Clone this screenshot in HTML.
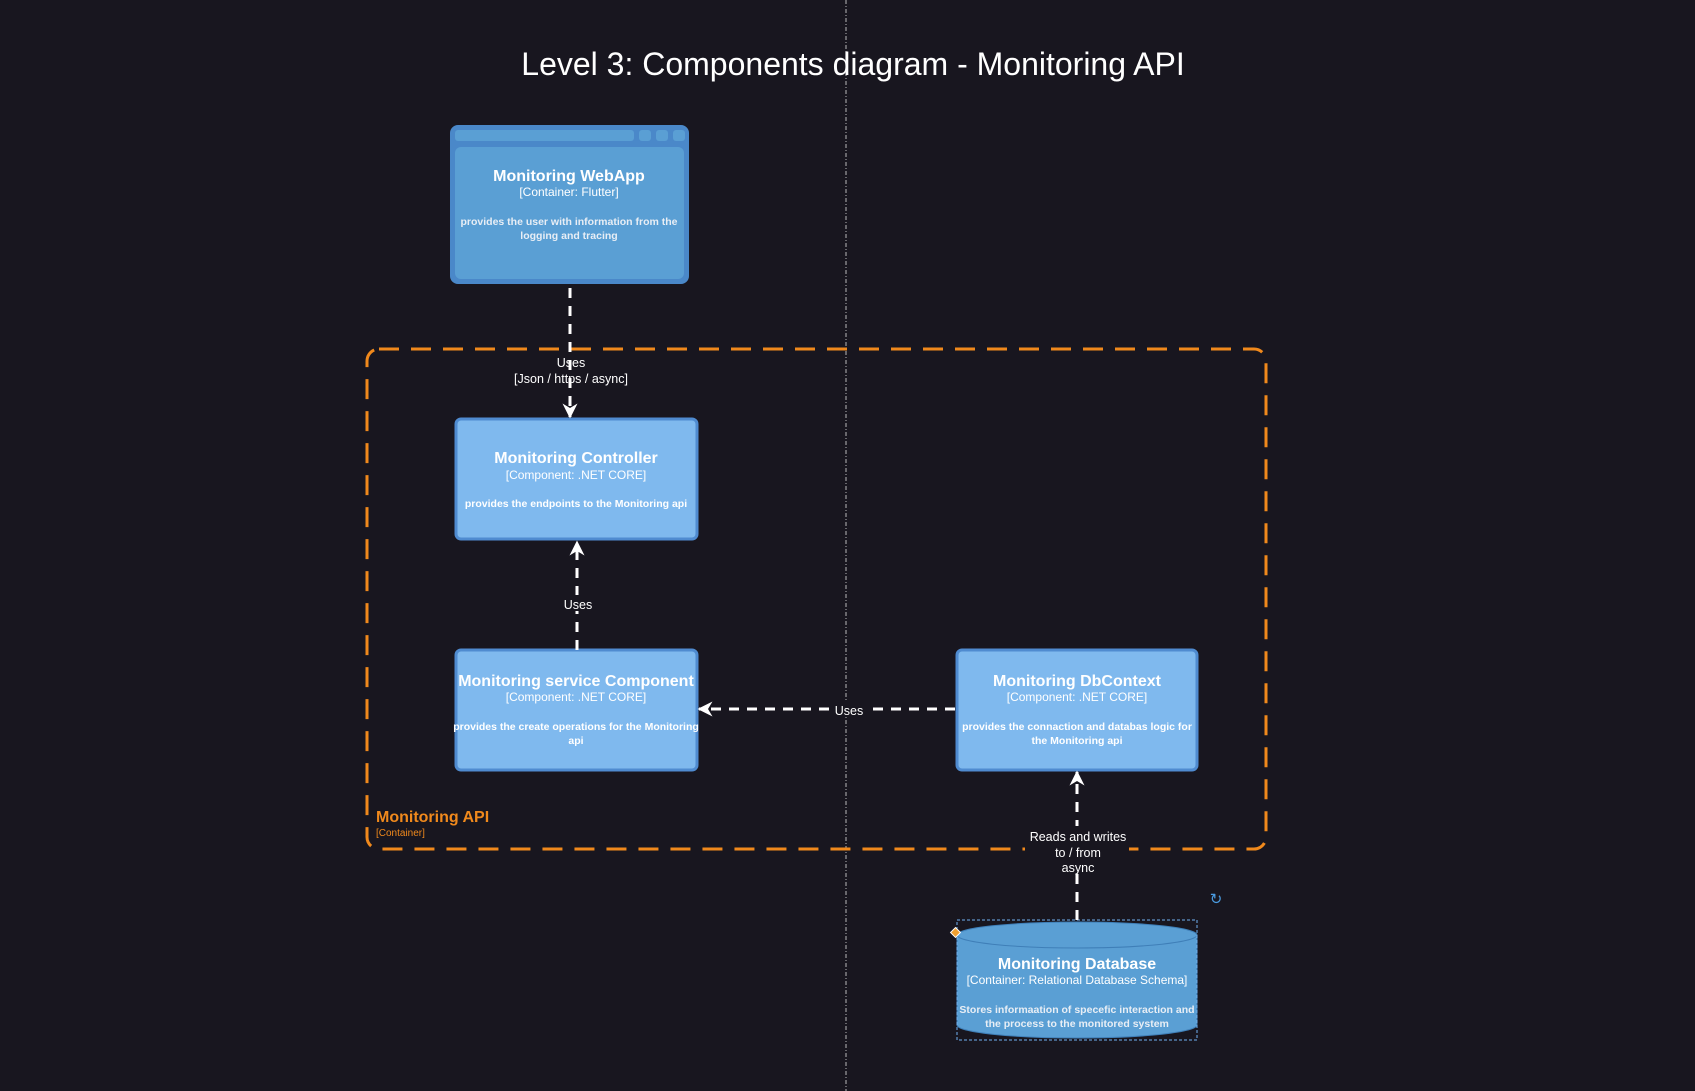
<!DOCTYPE html>
<html><head><meta charset="utf-8"><style>
html,body{margin:0;padding:0;background:#18161f;}
svg{display:block;font-family:"Liberation Sans",sans-serif;}
.d{font-weight:bold;}
</style></head><body>
<svg width="1695" height="1091" viewBox="0 0 1695 1091" xmlns="http://www.w3.org/2000/svg">
<defs>
<marker id="ah" viewBox="0 0 10 10" refX="9" refY="5" markerWidth="5" markerHeight="5" orient="auto-start-reverse">
<path d="M0,0 L10,5 L0,10 L3,5 z" fill="#ffffff"/></marker>
</defs>
<rect width="1695" height="1091" fill="#18161f"/>
<line x1="846" y1="0" x2="846" y2="1091" stroke="#b8b8b8" stroke-width="1" stroke-dasharray="4,2,1,2"/>
<text x="853" y="75" fill="#ffffff" font-size="32" text-anchor="middle">Level 3: Components diagram - Monitoring API</text>

<rect x="367" y="349" width="899" height="500" rx="12" fill="none" stroke="#f0891c" stroke-width="3" stroke-dasharray="20,12"/>
<text x="376" y="822" fill="#f0891c" font-size="16" font-weight="bold">Monitoring API</text>
<text x="376" y="836" fill="#f0891c" font-size="10">[Container]</text>

<rect x="450" y="125" width="239" height="159" rx="8" fill="#4a88c9"/>
<rect x="455" y="130" width="179" height="11" rx="3" fill="#5a9fd4"/>
<rect x="639" y="130" width="12" height="11" rx="3" fill="#5a9fd4"/>
<rect x="656" y="130" width="12" height="11" rx="3" fill="#5a9fd4"/>
<rect x="673" y="130" width="12" height="11" rx="3" fill="#5a9fd4"/>
<rect x="455" y="147" width="229" height="132" rx="6" fill="#5a9fd4"/>
<text x="569" y="181" fill="#fff" font-size="16" font-weight="bold" text-anchor="middle">Monitoring WebApp</text>
<text x="569" y="196" fill="#fff" font-size="12" text-anchor="middle">[Container: Flutter]</text>
<text class="d" x="569" y="225" fill="#e8eef5" font-size="10.5" text-anchor="middle">provides the user with information from the</text>
<text class="d" x="569" y="239" fill="#e8eef5" font-size="10.5" text-anchor="middle">logging and tracing</text>

<rect x="456" y="419" width="241" height="120" rx="5" fill="#7fb9ee" stroke="#4f8bd0" stroke-width="3"/>
<text x="576" y="463" fill="#fff" font-size="16" font-weight="bold" text-anchor="middle">Monitoring Controller</text>
<text x="576" y="479" fill="#fff" font-size="12" text-anchor="middle">[Component: .NET CORE]</text>
<text class="d" x="576" y="507" fill="#fff" font-size="10.5" text-anchor="middle">provides the endpoints to the Monitoring api</text>

<rect x="456" y="650" width="241" height="120" rx="5" fill="#7fb9ee" stroke="#4f8bd0" stroke-width="3"/>
<text x="576" y="686" fill="#fff" font-size="16" font-weight="bold" text-anchor="middle">Monitoring service Component</text>
<text x="576" y="701" fill="#fff" font-size="12" text-anchor="middle">[Component: .NET CORE]</text>
<text class="d" x="576" y="730" fill="#fff" font-size="10.5" text-anchor="middle">provides the create operations for the Monitoring</text>
<text class="d" x="576" y="744" fill="#fff" font-size="10.5" text-anchor="middle">api</text>

<rect x="957" y="650" width="240" height="120" rx="5" fill="#7fb9ee" stroke="#4f8bd0" stroke-width="3"/>
<text x="1077" y="686" fill="#fff" font-size="16" font-weight="bold" text-anchor="middle">Monitoring DbContext</text>
<text x="1077" y="701" fill="#fff" font-size="12" text-anchor="middle">[Component: .NET CORE]</text>
<text class="d" x="1077" y="730" fill="#fff" font-size="10.5" text-anchor="middle">provides the connaction and databas logic for</text>
<text class="d" x="1077" y="744" fill="#fff" font-size="10.5" text-anchor="middle">the Monitoring api</text>

<path d="M957,935 L957,1025 A120,13 0 0 0 1197,1025 L1197,935 A120,13 0 0 0 957,935 Z" fill="#5a9fd4" stroke="#3f7fb8" stroke-width="1"/>
<path d="M957,935 A120,13 0 0 0 1197,935" fill="none" stroke="#3f7fb8" stroke-width="1"/>
<rect x="957" y="920" width="240" height="120" fill="none" stroke="#6fb0f0" stroke-width="1" stroke-dasharray="3,2"/>
<rect x="952" y="929" width="7" height="7" fill="#f0a030" stroke="#fff" stroke-width="1" transform="rotate(45 955.5 932.5)"/>
<text x="1077" y="969" fill="#fff" font-size="16" font-weight="bold" text-anchor="middle">Monitoring Database</text>
<text x="1077" y="984" fill="#fff" font-size="12" text-anchor="middle">[Container: Relational Database Schema]</text>
<text class="d" x="1077" y="1013" fill="#e8eef5" font-size="10.5" text-anchor="middle">Stores informaation of specefic interaction and</text>
<text class="d" x="1077" y="1027" fill="#e8eef5" font-size="10.5" text-anchor="middle">the process to the monitored system</text>
<text x="1216" y="904" fill="#4a9be0" font-size="15" text-anchor="middle">↻</text>

<line x1="570" y1="288" x2="570" y2="417" stroke="#fff" stroke-width="3" stroke-dasharray="10,8" marker-end="url(#ah)"/>
<text x="571" y="367" fill="#fff" font-size="12.5" text-anchor="middle">Uses</text>
<text x="571" y="383" fill="#fff" font-size="12.5" text-anchor="middle">[Json / https / async]</text>

<line x1="577" y1="650" x2="577" y2="542" stroke="#fff" stroke-width="3" stroke-dasharray="10,8" marker-end="url(#ah)"/>
<rect x="560" y="595" width="34" height="16" fill="#18161f"/>
<text x="578" y="609" fill="#fff" font-size="12.5" text-anchor="middle">Uses</text>

<line x1="955" y1="709" x2="699" y2="709" stroke="#fff" stroke-width="3" stroke-dasharray="10,8" marker-end="url(#ah)"/>
<rect x="833" y="701" width="32" height="16" fill="#18161f"/>
<text x="849" y="715" fill="#fff" font-size="12.5" text-anchor="middle">Uses</text>

<line x1="1077" y1="920" x2="1077" y2="772" stroke="#fff" stroke-width="3" stroke-dasharray="10,8" marker-end="url(#ah)"/>
<rect x="1025" y="826" width="104" height="48" fill="#18161f"/>
<text x="1078" y="841" fill="#fff" font-size="12.5" text-anchor="middle">Reads and writes</text>
<text x="1078" y="857" fill="#fff" font-size="12.5" text-anchor="middle">to / from</text>
<text x="1078" y="872" fill="#fff" font-size="12.5" text-anchor="middle">async</text>
</svg>
</body></html>
